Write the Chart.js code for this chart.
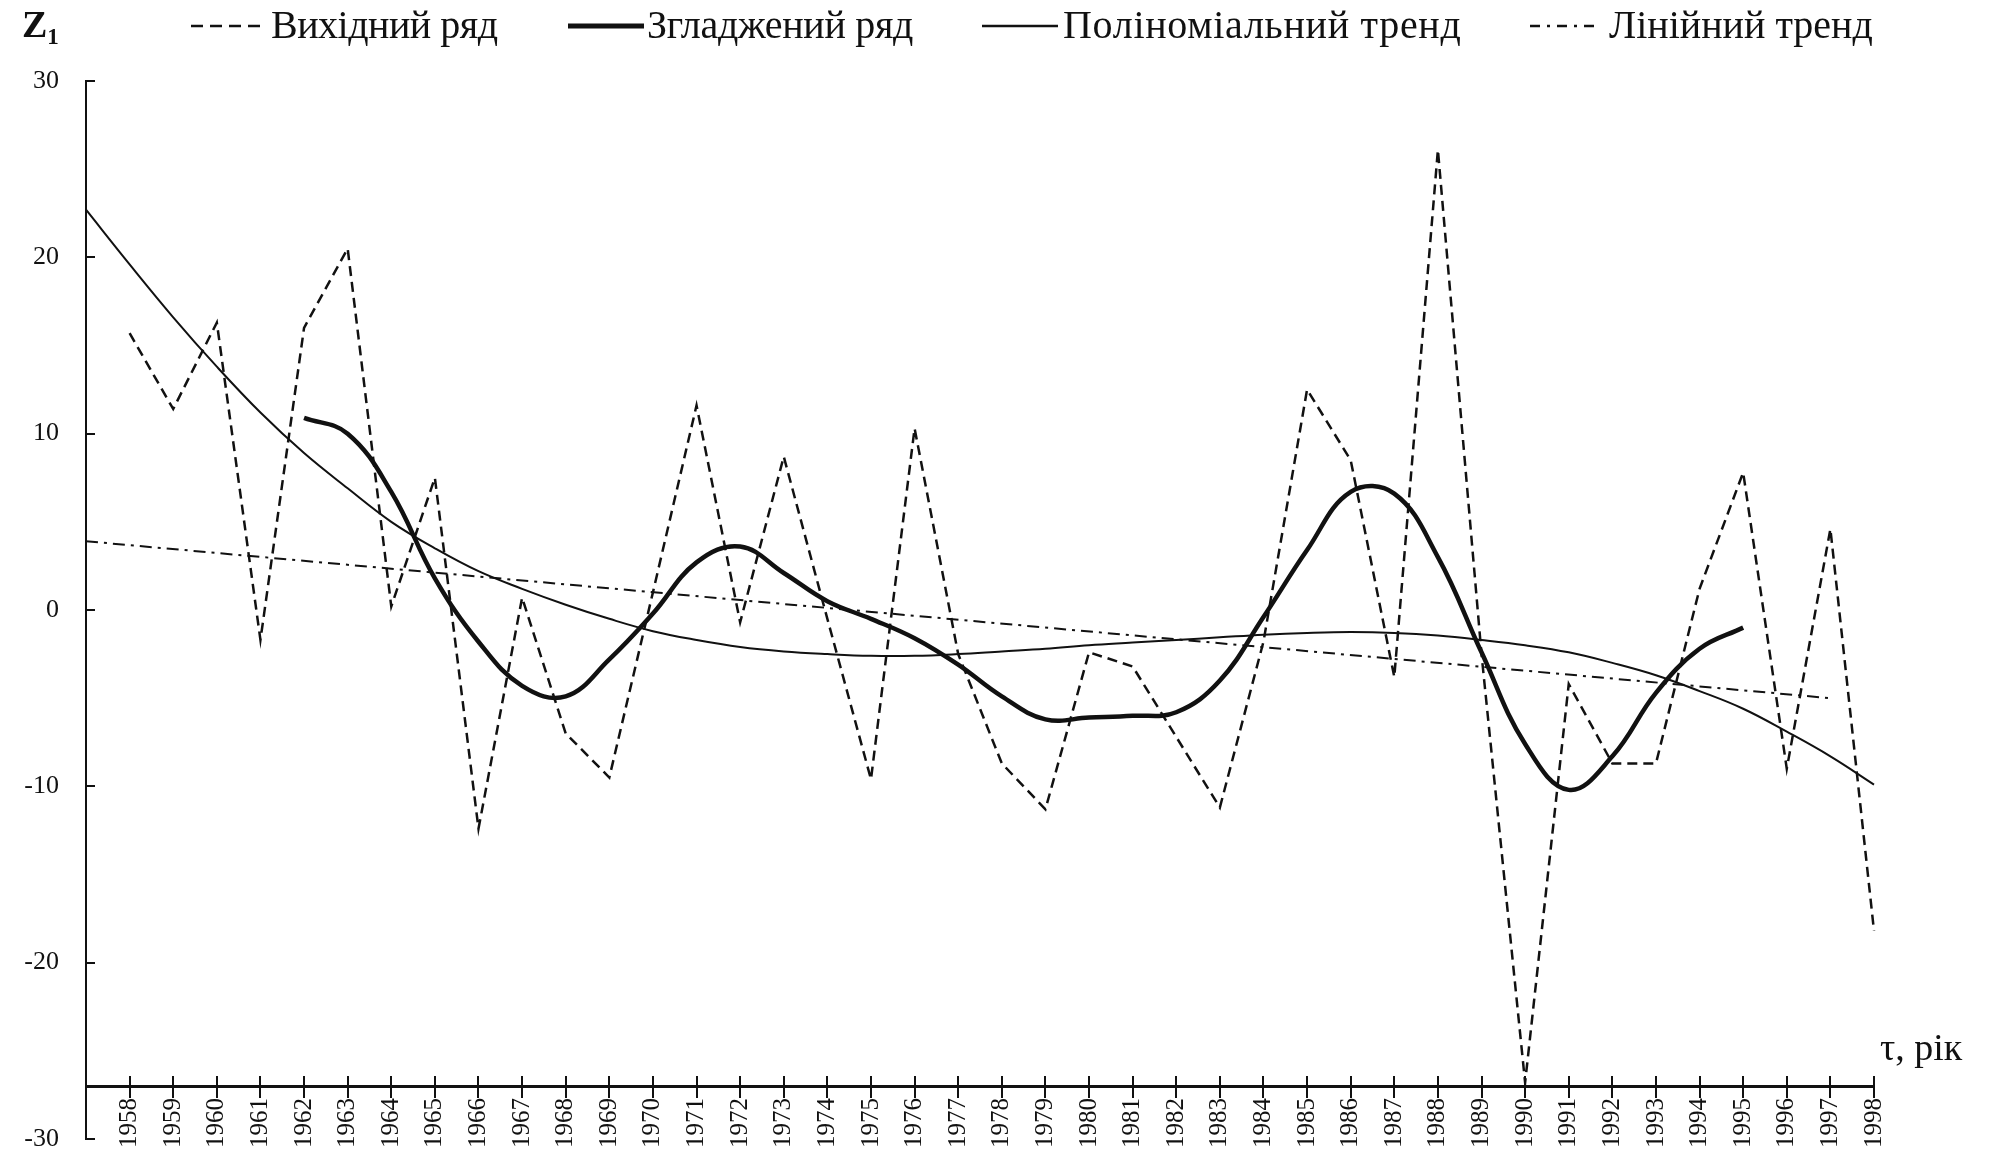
<!DOCTYPE html>
<html lang="uk">
<head>
<meta charset="utf-8">
<title>Z1: вихідний ряд, згладжений ряд і тренди</title>
<script src="https://cdn.jsdelivr.net/npm/chart.js@4.4.1/dist/chart.umd.min.js"></script>
<style>
  html, body { margin: 0; padding: 0; background: #fff; }
  #wrap { position: relative; width: 1989px; height: 1155px; overflow: hidden;
          font-family: "Liberation Serif", "Times New Roman", serif; color: #111; }
  #chart { position: absolute; left: 0; top: 0; }
  .txt { position: absolute; white-space: nowrap; line-height: 1; }
  .lt { top: 5px; font-size: 40px; }
  .sample { position: absolute; top: 16px; overflow: visible; }
  #ztitle { left: 22px; top: 5px; font-size: 38px; font-weight: bold; }
  #ztitle sub { font-size: 23px; vertical-align: -7px; line-height: 1; }
  #tau { left: 1880px; top: 1028px; font-size: 38px; }
</style>
</head>
<body>
<div id="wrap">
  <canvas id="chart" width="1989" height="1155"></canvas>

  <div id="ztitle" class="txt">Z<sub>1</sub></div>

  <svg class="sample" style="left:191px" width="74" height="20"><line x1="0" y1="10" x2="74" y2="10" stroke="#111" stroke-width="2.5" stroke-dasharray="12 7"/></svg>
  <span class="txt lt" style="left:271px; letter-spacing:-0.5px">Вихідний ряд</span>

  <svg class="sample" style="left:568px" width="76" height="20"><line x1="0" y1="10" x2="76" y2="10" stroke="#111" stroke-width="5"/></svg>
  <span class="txt lt" style="left:647px; letter-spacing:-0.3px">Згладжений ряд</span>

  <svg class="sample" style="left:982px" width="76" height="20"><line x1="0" y1="10" x2="76" y2="10" stroke="#111" stroke-width="2.5"/></svg>
  <span class="txt lt" style="left:1063px; letter-spacing:0.7px">Поліноміальний тренд</span>

  <svg class="sample" style="left:1530px" width="64" height="20"><line x1="0" y1="10" x2="64" y2="10" stroke="#111" stroke-width="2.5" stroke-dasharray="10 7 3 7"/></svg>
  <span class="txt lt" style="left:1609px">Лінійний тренд</span>

  <span id="tau" class="txt">τ, рік</span>
</div>

<script>
// Years shown on the horizontal axis
const years = [1958, 1959, 1960, 1961, 1962, 1963, 1964, 1965, 1966, 1967,
               1968, 1969, 1970, 1971, 1972, 1973, 1974, 1975, 1976, 1977,
               1978, 1979, 1980, 1981, 1982, 1983, 1984, 1985, 1986, 1987,
               1988, 1989, 1990, 1991, 1992, 1993, 1994, 1995, 1996, 1997, 1998];

// Вихідний ряд (one value per year, 1958–1998)
const original = [15.7, 11.4, 16.3, -1.7, 16.0, 20.5, 0.2, 7.5, -12.4, 0.7,
                  -7.0, -9.5, 1.0, 11.6, -0.7, 8.7, -0.5, -9.6, 10.3, -2.5,
                  -8.7, -11.3, -2.4, -3.2, -7.2, -11.2, -1.8, 12.5, 8.5, -3.8,
                  26.1, -2.5, -26.8, -4.2, -8.7, -8.7, 1.2, 7.8, -9.0, 4.6, -18.2];

// Згладжений ряд (1962–1995)
const smoothedYears = [1962, 1963, 1964, 1965, 1966, 1967, 1968, 1969, 1970, 1971,
                       1972, 1973, 1974, 1975, 1976, 1977, 1978, 1979, 1980, 1981,
                       1982, 1983, 1984, 1985, 1986, 1987, 1988, 1989, 1990, 1991,
                       1992, 1993, 1994, 1995];
const smoothed = [10.9, 10.0, 6.7, 1.8, -1.8, -4.3, -4.9, -2.8, -0.2, 2.7,
                  3.6, 2.1, 0.5, -0.5, -1.6, -3.1, -4.9, -6.2, -6.1, -6.0,
                  -5.8, -4.0, -0.4, 3.4, 6.7, 6.6, 3.0, -2.4, -7.6, -10.2,
                  -8.3, -4.7, -2.2, -1.0];

// Поліноміальний тренд (1957–1998)
const polyYears = [1957].concat(years);
const polynomial = [22.7, 19.6, 16.6, 13.8, 11.2, 8.9, 6.9, 5.0, 3.5, 2.2, 1.2,
                    0.3, -0.5, -1.2, -1.7, -2.1, -2.35, -2.5, -2.6, -2.6, -2.5,
                    -2.35, -2.2, -2.0, -1.85, -1.7, -1.55, -1.4, -1.3, -1.25, -1.3,
                    -1.45, -1.7, -2.0, -2.4, -3.0, -3.7, -4.6, -5.6, -6.9, -8.3, -9.9];

// Лінійний тренд (end points)
const linearYears = [1957, 1997];
const linearTrend = [3.9, -5.0];

// Value axis ticks and the level where the time axis crosses it
const yTicks = [-30, -20, -10, 0, 10, 20, 30];
const timeAxisLevel = -27;

const INK = '#111';
const SERIF = '"Liberation Serif", "Times New Roman", serif';

const toPoints = (xs, ys) => xs.map((x, i) => ({ x: x, y: ys[i] }));
const yearTicks = scale => { scale.ticks = years.map(v => ({ value: v })); };
const noHeight = scale => { scale.height = 0; };

new Chart(document.getElementById('chart'), {
  type: 'line',
  data: {
    datasets: [
      {
        label: 'Вихідний ряд',
        data: toPoints(years, original),
        borderColor: INK, borderWidth: 2.5, borderDash: [10, 6],
        tension: 0, pointRadius: 0, fill: false
      },
      {
        label: 'Згладжений ряд',
        data: toPoints(smoothedYears, smoothed),
        borderColor: INK, borderWidth: 4.5,
        tension: 0.4, pointRadius: 0, fill: false
      },
      {
        label: 'Поліноміальний тренд',
        data: toPoints(polyYears, polynomial),
        borderColor: INK, borderWidth: 2,
        tension: 0.4, pointRadius: 0, fill: false
      },
      {
        label: 'Лінійний тренд',
        data: toPoints(linearYears, linearTrend),
        borderColor: INK, borderWidth: 2, borderDash: [12, 6, 3, 6],
        tension: 0, pointRadius: 0, fill: false
      }
    ]
  },
  options: {
    responsive: false,
    devicePixelRatio: 1,
    animation: false,
    clip: false,
    layout: { padding: { left: 0, right: 115, top: 81, bottom: 16 } },
    plugins: { legend: { display: false }, tooltip: { enabled: false } },
    scales: {
      x: {
        type: 'linear', axis: 'x', min: 1957, max: 1998,
        position: { y: timeAxisLevel },
        afterFit: noHeight,
        afterBuildTicks: yearTicks,
        border: { display: true, color: INK, width: 3 },
        grid: { drawOnChartArea: false, drawTicks: true, tickLength: 10, color: INK, lineWidth: 2 },
        ticks: {
          autoSkip: false, minRotation: 90, maxRotation: 90, padding: 2,
          color: INK, font: { family: SERIF, size: 25 },
          callback: v => String(v)
        }
      },
      // upper half of the crossing tick marks on the time axis
      xMarks: {
        type: 'linear', axis: 'x', min: 1957, max: 1998,
        position: { y: timeAxisLevel },
        afterFit: noHeight,
        afterBuildTicks: yearTicks,
        border: { display: false },
        grid: { drawOnChartArea: false, drawTicks: true, tickLength: -10, color: INK, lineWidth: 2 },
        ticks: { display: false }
      },
      y: {
        type: 'linear', min: -30, max: 30, position: 'left',
        afterFit: scale => {
          scale.width = 86;
          // keep the plot area spanning the full -30..30 range
          scale.paddingTop = 0;
          scale.paddingBottom = 0;
        },
        afterBuildTicks: scale => { scale.ticks = yTicks.map(v => ({ value: v })); },
        border: { display: true, color: INK, width: 2 },
        grid: { drawOnChartArea: false, drawTicks: true, tickLength: -9, color: INK, lineWidth: 2 },
        ticks: {
          padding: 36, color: INK,
          font: { family: SERIF, size: 26, lineHeight: 1 },
          callback: v => String(v)
        }
      }
    }
  }
});
</script>
</body>
</html>
